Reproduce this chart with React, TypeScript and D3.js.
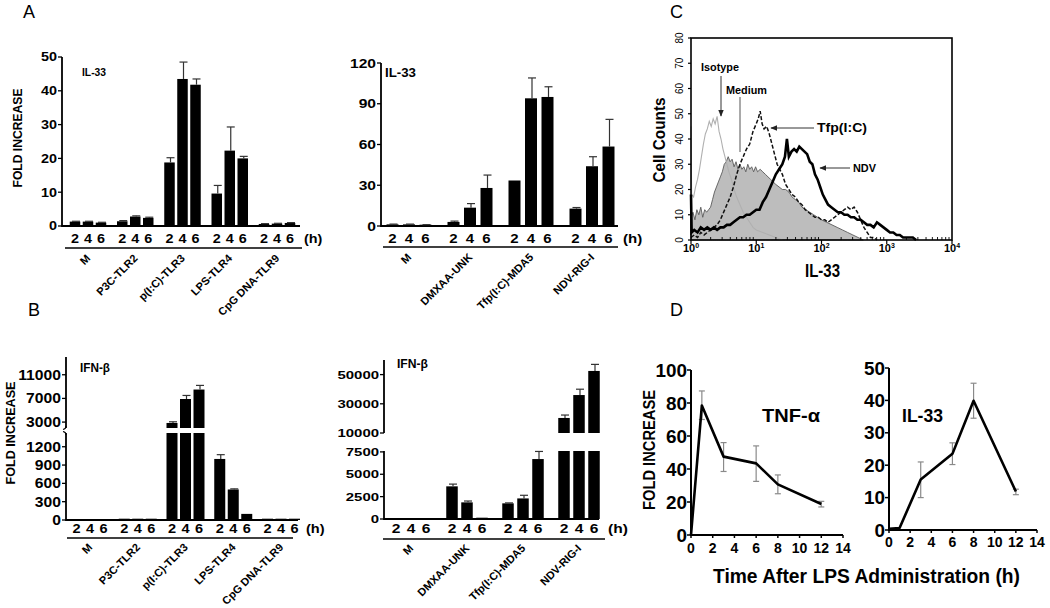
import React from 'react';
import * as d3 from 'd3';

const FONT = '"Liberation Sans", Arial, Helvetica, sans-serif';

// ---------- Panel A / B data ----------
const timeLabels = ['2', '4', '6'];
const tlrGroups = ['M', 'P3C-TLR2', 'p(I:C)-TLR3', 'LPS-TLR4', 'CpG DNA-TLR9'];
const rlrGroups = ['M', 'DMXAA-UNK', 'Tfp(I:C)-MDA5', 'NDV-RIG-I'];

const aLeftValues = [[1.3, 1.3, 1.0], [1.4, 2.8, 2.4], [18.8, 43.5, 41.8], [9.6, 22.3, 20.0], [0.6, 0.7, 0.9]];
const aLeftErrors = [[1.4, 1.4, 1.1], [1.6, 3.0, 2.6], [20.2, 48.5, 43.5], [12.0, 29.3, 20.6], [0.7, 0.8, 1.0]];
const aLeftTicks = [0, 10, 20, 30, 40, 50];

const aRightValues = [[1.2, 1.2, 0.8], [3.0, 13.5, 28.0], [33.5, 94.0, 95.0], [12.8, 44.0, 58.5]];
const aRightErrors = [[1.4, 1.4, 1.0], [3.6, 16.5, 37.5], [33.5, 109.0, 102.5], [13.6, 51.0, 78.5]];
const aRightTicks = [0, 30, 60, 90, 120];

const bLeftValues = [[0, 0, 0], [5, 5, 5], [2850, 6900, 8500], [1000, 500, 100], [10, 15, 20]];
const bLeftErrors = [[0, 0, 0], [5, 5, 5], [3050, 7500, 9200], [1070, 510, 100], [10, 15, 20]];
const bLeftLowerTicks = [0, 300, 600, 900, 1200];
const bLeftUpperTicks = [3000, 7000, 11000];

const bRightValues = [[0, 0, 0], [3650, 1860, 50], [1750, 2300, 6700], [20300, 36000, 52500]];
const bRightErrors = [[0, 0, 0], [3900, 2010, 50], [1800, 2650, 7550], [22300, 40000, 57000]];
const bRightLowerTicks = [0, 2500, 5000, 7500];
const bRightUpperTicks = [10000, 30000, 50000];

// ---------- Panel C data: [log10 intensity, cell count] ----------
const histIsotype: [number, number][] = [
  [0.0, 45], [0.01, 18], [0.04, 17], [0.07, 21], [0.1, 24], [0.13, 28], [0.16, 33], [0.19, 38], [0.22, 42],
  [0.25, 44], [0.28, 47], [0.31, 45], [0.34, 48], [0.37, 46], [0.4, 49], [0.43, 43], [0.46, 40], [0.49, 36],
  [0.52, 33], [0.55, 30], [0.58, 27], [0.62, 24], [0.66, 20], [0.7, 17], [0.75, 14], [0.8, 11], [0.85, 9],
  [0.9, 7], [0.95, 5], [1.0, 4], [1.1, 3], [1.2, 2], [1.3, 1], [1.4, 0],
];
const histMedium: [number, number][] = [
  [0.0, 9], [0.03, 11], [0.06, 8], [0.09, 12], [0.12, 10], [0.15, 13], [0.18, 9], [0.21, 12], [0.24, 11],
  [0.27, 12], [0.3, 13], [0.33, 16], [0.36, 19], [0.39, 21], [0.42, 23], [0.45, 25], [0.48, 27], [0.51, 30],
  [0.54, 31], [0.57, 33], [0.6, 31], [0.63, 32], [0.66, 29], [0.69, 31], [0.72, 28], [0.75, 30], [0.78, 28],
  [0.81, 29], [0.84, 27], [0.87, 30], [0.9, 28], [0.93, 29], [0.96, 27], [0.99, 29], [1.02, 27], [1.06, 28],
  [1.1, 27], [1.14, 26], [1.18, 25], [1.22, 24], [1.26, 23], [1.3, 22], [1.35, 21], [1.4, 20], [1.45, 20],
  [1.5, 19], [1.55, 17], [1.6, 16], [1.65, 15], [1.7, 13], [1.76, 12], [1.82, 11], [1.88, 10], [1.94, 9],
  [2.0, 8], [2.08, 7], [2.16, 6], [2.24, 5], [2.32, 4], [2.4, 3], [2.48, 2], [2.56, 1], [2.64, 0],
];
const histTfp: [number, number][] = [
  [0.0, 1], [0.05, 2], [0.1, 1], [0.15, 3], [0.2, 2], [0.25, 3], [0.3, 4], [0.35, 5], [0.4, 6], [0.45, 8],
  [0.5, 11], [0.55, 14], [0.6, 17], [0.65, 21], [0.7, 26], [0.75, 30], [0.8, 33], [0.85, 36], [0.9, 38],
  [0.95, 43], [1.0, 46], [1.03, 48], [1.06, 51], [1.09, 46], [1.12, 44], [1.16, 45], [1.2, 42], [1.24, 38],
  [1.28, 34], [1.32, 30], [1.36, 28], [1.4, 26], [1.45, 22], [1.5, 20], [1.55, 18], [1.6, 17], [1.65, 15],
  [1.7, 14], [1.75, 12], [1.8, 11], [1.85, 10], [1.9, 9], [1.95, 9], [2.0, 8], [2.05, 8], [2.1, 7], [2.15, 8],
  [2.2, 9], [2.25, 10], [2.3, 11], [2.35, 12], [2.4, 13], [2.45, 12], [2.5, 13], [2.55, 11], [2.6, 8],
  [2.65, 5], [2.7, 3], [2.75, 1], [2.8, 1], [2.85, 0],
];
const histNDV: [number, number][] = [
  [0.0, 18], [0.01, 3], [0.05, 4], [0.1, 3], [0.15, 5], [0.2, 4], [0.25, 5], [0.3, 4], [0.35, 5], [0.4, 4],
  [0.45, 5], [0.5, 5], [0.55, 6], [0.6, 6], [0.65, 7], [0.7, 8], [0.75, 9], [0.8, 9], [0.85, 10], [0.9, 10],
  [0.95, 11], [1.0, 12], [1.05, 12], [1.1, 15], [1.15, 17], [1.2, 20], [1.25, 23], [1.3, 26], [1.35, 28],
  [1.4, 30], [1.44, 33], [1.47, 40], [1.5, 33], [1.54, 35], [1.58, 36], [1.62, 35], [1.66, 37], [1.7, 36],
  [1.74, 35], [1.78, 34], [1.82, 31], [1.86, 30], [1.9, 26], [1.94, 24], [1.98, 21], [2.02, 18], [2.06, 16],
  [2.1, 14], [2.15, 13], [2.2, 12], [2.25, 11], [2.3, 11], [2.35, 10], [2.4, 10], [2.45, 9], [2.5, 9],
  [2.55, 8], [2.6, 8], [2.65, 7], [2.7, 6], [2.75, 6], [2.8, 5], [2.85, 7], [2.9, 6], [2.95, 5], [3.0, 4],
  [3.05, 3], [3.1, 3], [3.15, 2], [3.2, 2], [3.25, 1], [3.3, 1], [3.35, 1], [3.4, 1], [3.45, 0],
];
const histYTicks = [0, 10, 20, 30, 40, 50, 60, 70, 80];
const histXDecades = [0, 1, 2, 3, 4];

// ---------- Panel D data ----------
const dXTicks = [0, 2, 4, 6, 8, 10, 12, 14];
const tnfTimes = [0, 1, 3, 6, 8, 12];
const tnfValues = [0, 78.5, 47.5, 43.4, 30.7, 18.8];
const tnfErrLow = [0, 70, 38.5, 32.5, 25, 17];
const tnfErrHigh = [0, 87.3, 56, 54, 36.4, 20.4];
const tnfYTicks = [0, 20, 40, 60, 80, 100];
const il33Times = [0, 1, 3, 6, 8, 12];
const il33Values = [0.4, 0.6, 15.6, 23.5, 39.9, 11.9];
const il33ErrLow = [0.4, 0.6, 10, 20.2, 34.5, 10.9];
const il33ErrHigh = [0.4, 0.6, 21, 26.9, 45.3, 12.6];
const il33YTicks = [0, 10, 20, 30, 40, 50];

// ---------- helpers ----------
function T(props: any) {
  const { x, y, sx = 1, size, anchor = 'start', weight = 'bold', rotate = 0, len, fill = '#000', children, family = FONT } = props;
  let tr = `translate(${x},${y})`;
  if (rotate) tr += ` rotate(${rotate})`;
  if (sx !== 1) tr += ` scale(${sx},1)`;
  return (
    <text transform={tr} fontSize={size} fontWeight={weight} textAnchor={anchor} fontFamily={family} fill={fill}
      textLength={len} lengthAdjust={len ? 'spacingAndGlyphs' : undefined}>
      {children}
    </text>
  );
}

interface Seg { domain: [number, number]; range: [number, number]; ticks: number[]; }

function BarPanel(p: any) {
  const gx = d3.scalePoint<string>().domain(p.groups).range(p.groupRange);
  const offs = [-1, 0, 1];
  const segs: Seg[] = p.segs;
  const scales = segs.map((s) => d3.scaleLinear().domain(s.domain).range(s.range));
  const base = segs[0].range[0];
  const els: any[] = [];
  segs.forEach((s, i) => {
    els.push(<line key={`ax${i}`} x1={p.axisX} x2={p.axisX} y1={s.range[0] + (i === 0 ? 1 : 0)} y2={s.range[1]} stroke="#000" strokeWidth={1.8} />);
    s.ticks.forEach((t) => {
      const y = scales[i](t);
      els.push(<line key={`tk${i}-${t}`} x1={p.axisX - 4} x2={p.axisX} y1={y} y2={y} stroke="#000" strokeWidth={1.3} />);
      els.push(<T key={`tl${i}-${t}`} x={p.axisX - 5} y={y + p.tickFont * 0.36} size={p.tickFont} sx={p.tickSx} anchor="end">{String(t)}</T>);
    });
    if (p.breakMarks && i > 0) {
      els.push(<path key={`bm${i}`} d={`M${p.axisX - 3},${s.range[0] + 1.5} Q${p.axisX},${s.range[0] + 1} ${p.axisX},${s.range[0] - 2}`} fill="none" stroke="#000" strokeWidth={1.2} />);
      const lowTop = segs[i - 1].range[1];
      els.push(<path key={`bn${i}`} d={`M${p.axisX - 3},${lowTop - 1.5} Q${p.axisX},${lowTop - 1} ${p.axisX},${lowTop + 2}`} fill="none" stroke="#000" strokeWidth={1.2} />);
    }
  });
  els.push(<line key="xax" x1={p.axisX} x2={p.axisEnd} y1={base} y2={base} stroke="#000" strokeWidth={1.8} />);
  p.values.forEach((vals: number[], gi: number) => {
    vals.forEach((v, ti) => {
      const cx = (gx(p.groups[gi]) as number) + offs[ti] * p.pitch;
      segs.forEach((s, si) => {
        const [lo, hi] = s.domain;
        if (v <= lo) return;
        const top = Math.min(v, hi);
        const y0 = scales[si](lo);
        let h = y0 - scales[si](top);
        if (si === 0) h = Math.max(h, 1.3);
        els.push(<rect key={`b${gi}-${ti}-${si}`} x={cx - p.barW / 2} y={y0 - h} width={p.barW} height={h} fill="#000" />);
      });
      const e = p.errors[gi][ti];
      if (e > v) {
        const si = segs.findIndex((s) => e > s.domain[0] && e <= s.domain[1]);
        if (si >= 0) {
          const [lo, hi] = segs[si].domain;
          const ys = v > lo ? scales[si](Math.min(v, hi)) : scales[si](lo);
          const ye = scales[si](e);
          const ex = cx + 1;
          els.push(<line key={`e${gi}-${ti}`} x1={ex} x2={ex} y1={ys} y2={ye} stroke="#333" strokeWidth={1.2} />);
          els.push(<line key={`c${gi}-${ti}`} x1={ex - 4} x2={ex + 4} y1={ye} y2={ye} stroke="#333" strokeWidth={1.2} />);
        }
      }
      els.push(<T key={`t${gi}-${ti}`} x={cx} y={p.timeY} size={p.timeFont} sx={p.tickSx} anchor="middle">{timeLabels[ti]}</T>);
    });
    const gc = gx(p.groups[gi]) as number;
    els.push(<T key={`g${gi}`} x={gc + p.catDx} y={p.catY} size={p.catFont} anchor="end" rotate={-45}>{p.groups[gi]}</T>);
  });
  els.push(<T key="h" x={p.hX} y={p.timeY} size={p.timeFont} sx={p.tickSx}>(h)</T>);
  els.push(<line key="gl" x1={p.lineX[0]} x2={p.lineX[1]} y1={p.lineY} y2={p.lineY} stroke="#000" strokeWidth={1.3} />);
  els.push(<T key="ti" x={p.titleX} y={p.titleY} size={p.titleFont} len={p.titleLen}>{p.title}</T>);
  return <g>{els}</g>;
}

function LinePanel(p: any) {
  const x = d3.scaleLinear().domain([0, 14]).range(p.xRange);
  const y = d3.scaleLinear().domain(p.yDomain).range(p.yRange);
  const line = d3.line<number>().x((_, i) => x(p.times[i])).y((d) => y(d));
  const y0 = p.yRange[0];
  return (
    <g>
      <line x1={x(0)} x2={x(0)} y1={y0 + 1} y2={p.yRange[1]} stroke="#000" strokeWidth={2} />
      <line x1={x(0)} x2={x(14)} y1={y0} y2={y0} stroke="#000" strokeWidth={2} />
      {p.yTicks.map((t: number) => (
        <g key={`y${t}`}>
          <line x1={x(0) - 4} x2={x(0)} y1={y(t)} y2={y(t)} stroke="#000" strokeWidth={1.5} />
          <T x={x(0) - 4} y={y(t) + 6.5} size={18} anchor="end" sx={1.05}>{String(t)}</T>
        </g>
      ))}
      {dXTicks.map((t) => (
        <g key={`x${t}`}>
          <line x1={x(t)} x2={x(t)} y1={y0} y2={y0 + 3} stroke="#000" strokeWidth={1.5} />
          <T x={x(t)} y={p.xLabelY} size={14} anchor="middle">{String(t)}</T>
        </g>
      ))}
      {p.times.map((t: number, i: number) =>
        p.errHigh[i] - p.errLow[i] > 0.5 ? (
          <g key={`e${i}`} stroke="#8a8a8a" strokeWidth={1.2}>
            <line x1={x(t)} x2={x(t)} y1={y(p.errLow[i])} y2={y(p.errHigh[i])} />
            <line x1={x(t) - 3} x2={x(t) + 3} y1={y(p.errLow[i])} y2={y(p.errLow[i])} />
            <line x1={x(t) - 3} x2={x(t) + 3} y1={y(p.errHigh[i])} y2={y(p.errHigh[i])} />
          </g>
        ) : null
      )}
      <path d={line(p.values) || ''} fill="none" stroke="#000" strokeWidth={2.6} strokeLinejoin="round" />
      <T x={p.labelX} y={p.labelY} size={19} len={p.labelLen}>{p.label}</T>
    </g>
  );
}

function FlowPanel() {
  const x = d3.scaleLog().domain([1, 1e4]).range([691, 952]);
  const y = d3.scaleLinear().domain([0, 80]).range([240, 38]);
  const lx = (d: [number, number]) => x(Math.pow(10, d[0]));
  const line = d3.line<[number, number]>().x(lx).y((d) => y(d[1]));
  const area = d3.area<[number, number]>().x(lx).y0(y(0)).y1((d) => y(d[1]));
  const minors: number[] = [];
  histXDecades.slice(0, 4).forEach((dd) => {
    for (let k = 2; k <= 9; k++) minors.push(k * Math.pow(10, dd));
  });
  return (
    <g>
      <defs>
        <marker id="arr" viewBox="0 0 10 10" refX="9" refY="5" markerWidth="7" markerHeight="7" orient="auto-start-reverse">
          <path d="M0,1 L10,5 L0,9 z" fill="#222" />
        </marker>
      </defs>
      <path d={area(histMedium) || ''} fill="#bdbdbd" stroke="#5a5a5a" strokeWidth={0.9} />
      <path d={line(histIsotype) || ''} fill="none" stroke="#b0b0b0" strokeWidth={1.1} />
      <path d={line(histTfp) || ''} fill="none" stroke="#111" strokeWidth={1.5} strokeDasharray="4,2" />
      <path d={line(histNDV) || ''} fill="none" stroke="#000" strokeWidth={2.6} />
      <rect x={691} y={38} width={261} height={202} fill="none" stroke="#000" strokeWidth={1.6} />
      {histYTicks.map((t) => (
        <g key={`hy${t}`}>
          <line x1={688} x2={691} y1={y(t)} y2={y(t)} stroke="#000" strokeWidth={1.2} />
          <T x={683} y={y(t)} size={10} weight="normal" anchor="middle" rotate={-90}>{String(t)}</T>
        </g>
      ))}
      {minors.map((m) => (
        <line key={`mn${m}`} x1={x(m)} x2={x(m)} y1={240} y2={237} stroke="#000" strokeWidth={0.9} />
      ))}
      {histXDecades.map((dd) => (
        <g key={`hx${dd}`}>
          <line x1={x(Math.pow(10, dd))} x2={x(Math.pow(10, dd))} y1={240} y2={244} stroke="#000" strokeWidth={1.2} />
          <text x={x(Math.pow(10, dd))} y={252} fontSize={11} fontWeight="bold" fontFamily={FONT} textAnchor="middle">
            10<tspan fontSize={7} dy={-4}>{String(dd)}</tspan>
          </text>
        </g>
      ))}
      <T x={805} y={277} size={18} len={35}>IL-33</T>
      <T x={665} y={140} size={17} anchor="middle" rotate={-90} len={85}>Cell Counts</T>
      <T x={701} y={71} size={11.5} len={38}>Isotype</T>
      <line x1={721} x2={721} y1={76} y2={116} stroke="#333" strokeWidth={1} markerEnd="url(#arr)" />
      <T x={726} y={94} size={11.5} len={41}>Medium</T>
      <line x1={740} x2={740} y1={97} y2={152} stroke="#555" strokeWidth={1} />
      <T x={817} y={132} size={12.5} len={50}>Tfp(I:C)</T>
      <line x1={814} x2={771} y1={128} y2={128} stroke="#333" strokeWidth={1} markerEnd="url(#arr)" />
      <T x={853} y={172} size={11.5} len={23}>NDV</T>
      <line x1={850} x2={820} y1={168} y2={168} stroke="#333" strokeWidth={1} markerEnd="url(#arr)" />
    </g>
  );
}

export default function App() {
  return (
    <svg width={1050} height={608} style={{ position: 'absolute', left: 0, top: 0, background: '#fff' }} fontFamily={FONT}>
      <rect x={0} y={0} width={1050} height={608} fill="#fff" />
      {/* panel letters */}
      <T x={23} y={18} size={18} weight="normal">A</T>
      <T x={28} y={316} size={18} weight="normal">B</T>
      <T x={670} y={18} size={18} weight="normal">C</T>
      <T x={670} y={316} size={18} weight="normal">D</T>

      {/* A left */}
      <T x={22} y={138} size={13} anchor="middle" rotate={-90} len={99}>FOLD INCREASE</T>
      <BarPanel groups={tlrGroups} values={aLeftValues} errors={aLeftErrors}
        segs={[{ domain: [0, 50], range: [226, 57], ticks: aLeftTicks }]}
        axisX={62} axisEnd={300} groupRange={[88, 277]} pitch={13} barW={10.5}
        tickFont={12} tickSx={1.2} timeY={243} timeFont={12} hX={304}
        lineY={248} lineX={[65, 302]} catY={259} catDx={3} catFont={11}
        title="IL-33" titleX={82} titleY={76} titleLen={24} titleFont={11.5} />

      {/* A right */}
      <BarPanel groups={rlrGroups} values={aRightValues} errors={aRightErrors}
        segs={[{ domain: [0, 120], range: [226, 63], ticks: aRightTicks }]}
        axisX={381} axisEnd={618} groupRange={[409, 592]} pitch={16.5} barW={12}
        tickFont={12.5} tickSx={1.25} timeY={243} timeFont={12} hX={623}
        lineY={247} lineX={[383, 618]} catY={258} catDx={3} catFont={11}
        title="IL-33" titleX={385} titleY={77} titleLen={31} titleFont={13} />

      {/* B left */}
      <T x={15} y={433} size={13} anchor="middle" rotate={-90} len={103}>FOLD INCREASE</T>
      <BarPanel groups={tlrGroups} values={bLeftValues} errors={bLeftErrors} breakMarks
        segs={[
          { domain: [0, 1425], range: [520, 433], ticks: bLeftLowerTicks },
          { domain: [2000, 14000], range: [428, 357], ticks: bLeftUpperTicks },
        ]}
        axisX={66} axisEnd={298} groupRange={[90, 281]} pitch={13.5} barW={11}
        tickFont={14} tickSx={1.12} timeY={533} timeFont={13} hX={306}
        lineY={538} lineX={[67, 293]} catY={548} catDx={3} catFont={11}
        title="IFN-β" titleX={80} titleY={372} titleLen={30} titleFont={12} />

      {/* B right */}
      <BarPanel groups={rlrGroups} values={bRightValues} errors={bRightErrors}
        segs={[
          { domain: [0, 7600], range: [519, 451], ticks: bRightLowerTicks },
          { domain: [10000, 60000], range: [433, 360], ticks: bRightUpperTicks },
        ]}
        axisX={384} axisEnd={599} groupRange={[411, 579]} pitch={15} barW={11.5}
        tickFont={11.5} tickSx={1.3} timeY={533} timeFont={12} hX={608}
        lineY={539} lineX={[383, 605]} catY={549} catDx={3} catFont={11}
        title="IFN-β" titleX={397} titleY={368} titleLen={31} titleFont={12} />

      {/* C */}
      <FlowPanel />

      {/* D */}
      <T x={655} y={450} size={16} anchor="middle" rotate={-90} len={120}>FOLD INCREASE</T>
      <LinePanel xRange={[691, 843]} yDomain={[0, 100]} yRange={[535, 370]} yTicks={tnfYTicks}
        times={tnfTimes} values={tnfValues} errLow={tnfErrLow} errHigh={tnfErrHigh} xLabelY={553}
        label="TNF-α" labelX={762} labelY={422} labelLen={58} />
      <LinePanel xRange={[889, 1037]} yDomain={[0, 50]} yRange={[530, 368]} yTicks={il33YTicks}
        times={il33Times} values={il33Values} errLow={il33ErrLow} errHigh={il33ErrHigh} xLabelY={547}
        label="IL-33" labelX={902} labelY={422} labelLen={41} />
      <T x={713} y={583} size={20} len={307}>Time After LPS Administration (h)</T>
    </svg>
  );
}
